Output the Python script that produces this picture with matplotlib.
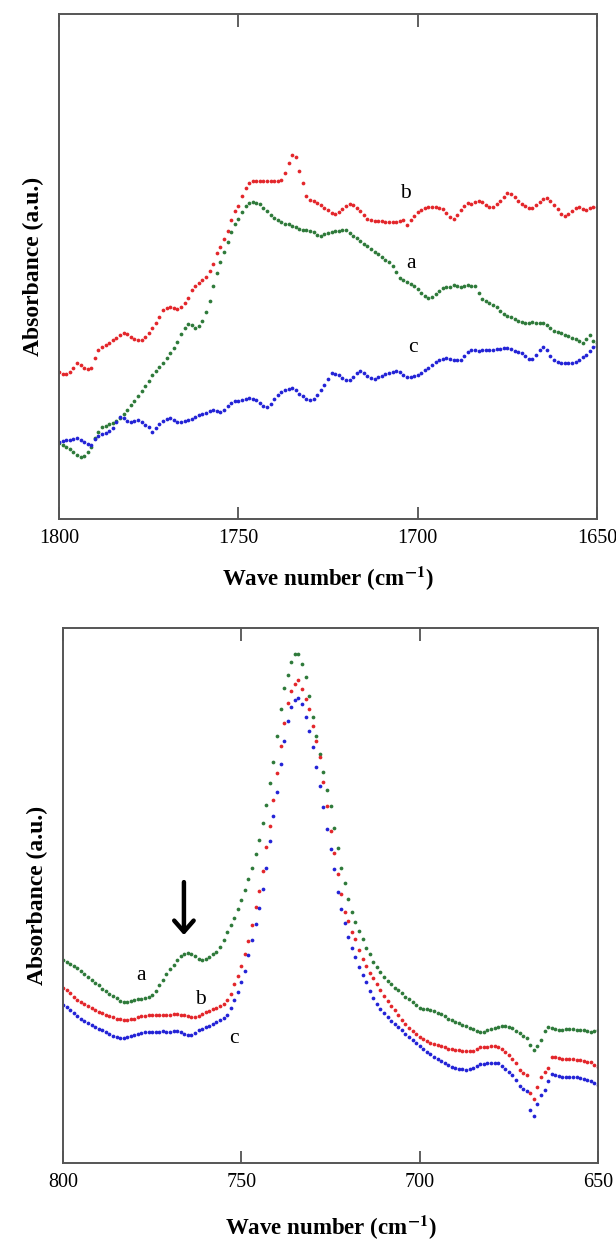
"""Two-panel FTIR absorbance figure: carbonyl region (top) and 800-650 cm-1 region (bottom)."""

import matplotlib
matplotlib.use("Agg")
import matplotlib.pyplot as plt
import numpy as np

plt.rcParams["font.family"] = ["Liberation Serif", "DejaVu Serif"]
plt.rcParams["mathtext.fontset"] = "stix"

GREEN = "#2e7a3a"
RED = "#e3262b"
BLUE = "#2323d6"

# ---- top panel: 1800 -> 1650 cm-1, one point per cm-1 (arbitrary absorbance units)
TOP_START = 1800
TOP_A = [
    15.0, 14.6, 14.2, 13.8, 13.2, 12.6, 12.3, 12.4, 13.2, 14.2,
    16.0, 17.2, 18.2, 18.5, 18.8, 19.0, 19.4, 20.0, 20.8, 21.6,
    22.5, 23.4, 24.4, 25.4, 26.3, 27.4, 28.5, 29.3, 30.1, 30.9,
    31.8, 32.8, 33.8, 35.0, 36.6, 37.8, 38.7, 38.5, 37.9, 38.2,
    39.2, 41.0, 43.2, 46.2, 48.8, 50.8, 52.8, 54.8, 56.8, 58.4,
    59.4, 60.8, 61.9, 62.5, 62.7, 62.6, 62.4, 61.6, 60.9, 60.2,
    59.6, 59.3, 58.8, 58.5, 58.4, 58.0, 57.8, 57.4, 57.3, 57.2,
    57.1, 56.8, 56.2, 56.1, 56.5, 56.7, 56.8, 57.0, 57.1, 57.3,
    57.2, 56.6, 56.1, 55.6, 55.0, 54.5, 54.0, 53.4, 52.9, 52.5,
    51.9, 51.3, 50.8, 50.2, 49.0, 47.8, 47.3, 47.0, 46.6, 46.2,
    45.5, 44.8, 44.2, 43.8, 43.9, 44.6, 45.2, 45.7, 45.9, 46.0,
    46.3, 46.2, 46.0, 46.1, 46.3, 46.1, 46.2, 44.8, 43.6, 43.2,
    42.8, 42.3, 41.9, 41.2, 40.6, 40.3, 40.0, 39.6, 39.2, 39.0,
    38.9, 38.9, 39.0, 38.8, 38.9, 38.9, 38.4, 37.8, 37.3, 37.0,
    36.8, 36.4, 36.2, 35.9, 35.7, 35.2, 34.8, 35.6, 36.4, 35.2,
    34.8,
]
TOP_B = [
    29.1, 28.8, 28.8, 29.2, 30.0, 30.8, 30.6, 30.0, 29.8, 30.0,
    31.8, 33.4, 34.0, 34.4, 34.9, 35.4, 35.8, 36.4, 36.8, 36.6,
    36.0, 35.6, 35.4, 35.5, 36.0, 36.9, 37.8, 38.8, 40.0, 41.3,
    41.8, 41.9, 41.8, 41.6, 42.0, 42.7, 43.8, 45.4, 46.2, 46.8,
    47.3, 48.0, 49.2, 50.6, 52.6, 53.9, 55.5, 57.0, 59.2, 60.9,
    62.0, 64.0, 65.6, 66.5, 66.9, 67.0, 67.0, 67.0, 66.9, 67.0,
    67.0, 66.9, 67.2, 68.6, 70.6, 72.1, 71.6, 69.0, 66.5, 64.0,
    63.2, 62.9, 62.6, 62.2, 61.6, 61.1, 60.6, 60.4, 60.7, 61.4,
    62.0, 62.4, 62.2, 61.6, 61.0, 60.2, 59.5, 59.2, 59.1, 59.1,
    59.0, 58.9, 58.9, 58.8, 58.8, 59.0, 59.2, 58.3, 59.2, 60.0,
    60.8, 61.2, 61.5, 61.7, 61.7, 61.8, 61.6, 61.4, 60.6, 59.8,
    59.5, 60.2, 61.2, 62.0, 62.5, 62.3, 62.8, 63.0, 62.7, 62.2,
    61.8, 61.7, 62.3, 63.0, 63.8, 64.5, 64.4, 63.8, 63.0, 62.4,
    61.9, 61.6, 61.6, 62.2, 62.8, 63.4, 63.6, 63.0, 62.2, 61.3,
    60.5, 60.1, 60.5, 61.0, 61.5, 61.8, 61.4, 61.2, 61.6, 61.7,
    61.8,
]
TOP_C = [
    15.2, 15.4, 15.6, 15.6, 15.9, 16.0, 15.6, 15.2, 14.8, 14.6,
    15.8, 16.4, 16.8, 17.0, 17.4, 18.0, 19.2, 20.2, 20.0, 19.4,
    19.2, 19.4, 19.6, 19.2, 18.6, 18.2, 17.2, 18.0, 18.8, 19.4,
    19.8, 20.0, 19.7, 19.3, 19.2, 19.4, 19.6, 19.9, 20.2, 20.6,
    20.8, 21.0, 21.3, 21.5, 21.4, 21.1, 21.6, 22.4, 22.9, 23.3,
    23.4, 23.6, 23.8, 23.9, 23.8, 23.5, 23.0, 22.4, 22.1, 22.8,
    23.8, 24.5, 25.1, 25.5, 25.8, 25.9, 25.5, 24.8, 24.3, 23.8,
    23.5, 23.8, 24.6, 25.5, 26.6, 27.8, 28.9, 28.7, 28.5, 28.0,
    27.6, 27.6, 28.2, 28.9, 29.4, 29.0, 28.4, 27.9, 27.8, 28.1,
    28.4, 28.8, 29.0, 29.2, 29.4, 29.2, 28.6, 28.1, 28.2, 28.3,
    28.5, 28.9, 29.5, 30.0, 30.6, 31.0, 31.4, 31.6, 31.8, 31.7,
    31.5, 31.4, 31.4, 32.2, 33.0, 33.4, 33.4, 33.3, 33.4, 33.5,
    33.4, 33.5, 33.6, 33.7, 33.8, 33.8, 33.6, 33.3, 33.0, 32.8,
    32.2, 31.7, 31.6, 32.4, 33.4, 34.0, 33.4, 32.2, 31.4, 31.1,
    30.9, 30.8, 30.8, 30.8, 31.0, 31.5, 32.0, 32.5, 33.2, 34.0,
    34.2,
]

# ---- bottom panel: 800 -> 650 cm-1, one point per cm-1
BOT_START = 800
BOT_A = [
    37.9, 37.6, 37.2, 36.8, 36.4, 35.9, 35.3, 34.8, 34.2, 33.7,
    33.2, 32.6, 32.1, 31.6, 31.2, 30.8, 30.3, 30.0, 30.1, 30.3,
    30.5, 30.6, 30.7, 30.9, 31.1, 31.4, 32.2, 33.2, 34.2, 35.3,
    36.2, 37.1, 38.0, 38.6, 39.0, 39.2, 39.0, 38.6, 38.2, 37.9,
    38.1, 38.5, 39.0, 39.5, 40.3, 41.6, 43.1, 44.4, 45.8, 47.5,
    49.1, 51.0, 53.0, 55.2, 57.7, 60.4, 63.5, 67.0, 71.0, 75.0,
    79.9, 84.8, 88.8, 91.3, 93.6, 95.1, 95.2, 93.2, 90.9, 87.2,
    83.4, 79.8, 76.5, 73.0, 69.8, 66.8, 62.6, 58.8, 55.2, 52.3,
    49.4, 46.9, 45.1, 43.4, 41.8, 40.2, 39.0, 37.6, 36.7, 35.7,
    34.7, 34.0, 33.4, 32.8, 32.3, 31.7, 31.1, 30.6, 30.0, 29.5,
    29.0, 28.8, 28.7, 28.6, 28.4, 28.1, 27.8, 27.4, 27.0, 26.7,
    26.4, 26.1, 25.8, 25.6, 25.3, 25.0, 24.7, 24.5, 24.5, 24.8,
    25.1, 25.3, 25.5, 25.6, 25.6, 25.5, 25.2, 24.7, 24.3, 23.8,
    23.3, 22.1, 21.1, 21.8, 23.0, 24.7, 25.5, 25.3, 25.0, 24.9,
    24.9, 25.0, 25.0, 25.0, 24.9, 24.9, 24.9, 24.6, 24.4, 24.6,
    24.9,
]
BOT_B = [
    32.7, 32.3, 31.7, 31.0, 30.5, 30.1, 29.7, 29.3, 29.0, 28.6,
    28.3, 28.0, 27.7, 27.4, 27.2, 27.0, 26.9, 26.8, 26.8, 26.9,
    27.0, 27.2, 27.4, 27.5, 27.6, 27.6, 27.6, 27.7, 27.6, 27.6,
    27.7, 27.8, 27.8, 27.7, 27.6, 27.4, 27.2, 27.2, 27.5, 27.9,
    28.2, 28.5, 28.7, 28.9, 29.3, 29.7, 30.4, 31.6, 33.4, 35.0,
    36.8, 39.0, 41.4, 44.5, 47.8, 50.8, 54.6, 59.0, 63.0, 67.9,
    72.9, 78.0, 82.3, 86.0, 88.3, 89.6, 90.2, 88.6, 86.7, 84.9,
    81.7, 78.8, 75.8, 71.3, 66.7, 62.0, 57.9, 54.0, 50.2, 47.0,
    45.2, 43.2, 41.8, 39.8, 38.1, 36.8, 35.6, 34.6, 33.5, 32.3,
    31.2, 30.2, 29.3, 28.6, 27.6, 26.8, 26.0, 25.3, 24.6, 24.1,
    23.6, 23.2, 22.8, 22.5, 22.2, 22.0, 21.8, 21.6, 21.4, 21.3,
    21.2, 21.1, 21.0, 20.9, 20.9, 21.0, 21.3, 21.6, 21.7, 21.7,
    21.8, 21.8, 21.7, 21.4, 20.8, 20.2, 19.4, 18.7, 17.4, 16.8,
    16.4, 13.0, 11.9, 14.2, 16.0, 17.0, 17.8, 19.9, 19.8, 19.6,
    19.4, 19.4, 19.4, 19.4, 19.3, 19.2, 19.0, 18.9, 18.8, 18.4,
    17.9,
]
BOT_C = [
    29.5, 29.1, 28.6, 28.0, 27.5, 27.0, 26.6, 26.2, 25.8, 25.4,
    25.1, 24.9, 24.5, 24.1, 23.8, 23.5, 23.4, 23.4, 23.5, 23.8,
    24.0, 24.2, 24.3, 24.4, 24.4, 24.5, 24.5, 24.5, 24.6, 24.5,
    24.5, 24.6, 24.7, 24.5, 24.2, 23.9, 23.9, 24.3, 24.8, 25.1,
    25.4, 25.7, 26.0, 26.3, 26.7, 27.1, 27.6, 29.0, 30.5, 32.0,
    33.8, 35.8, 38.8, 41.6, 44.6, 47.6, 51.3, 55.1, 60.2, 64.9,
    69.4, 74.6, 78.8, 82.6, 85.2, 86.5, 86.9, 85.8, 83.4, 80.7,
    77.7, 74.0, 70.5, 66.5, 62.5, 58.6, 55.0, 50.7, 47.4, 44.8,
    42.2, 40.2, 38.5, 36.7, 35.2, 33.8, 32.1, 30.8, 29.7, 28.8,
    28.0, 27.3, 26.6, 26.0, 25.4, 24.8, 24.2, 23.6, 23.0, 22.4,
    21.9, 21.4, 20.8, 20.3, 19.8, 19.4, 19.0, 18.6, 18.3, 18.0,
    17.8, 17.6, 17.5, 17.4, 17.5, 17.8, 18.2, 18.5, 18.5, 18.6,
    18.6, 18.7, 18.6, 18.2, 17.6, 17.1, 16.4, 15.5, 14.3, 13.8,
    13.4, 10.0, 8.8, 11.0, 12.7, 13.6, 15.4, 16.6, 16.4, 16.2,
    16.1, 16.1, 16.1, 16.1, 16.1, 15.9, 15.7, 15.5, 15.4, 15.0,
    14.6,
]

TOP_TICKS = [1800, 1750, 1700, 1650]
BOT_TICKS = [800, 750, 700, 650]
XLABEL = r"Wave number (cm$^{\mathbf{-1}}$)"
YLABEL = "Absorbance (a.u.)"


def wavenumbers(start, n):
    return start - np.arange(n)


def style_axes(ax, xmax, xmin, ticks, labelpad):
    ax.set_xlim(xmax, xmin)
    ax.set_ylim(0, 100)
    ax.set_xticks(ticks)
    ax.set_yticks([])
    ax.tick_params(axis="x", direction="in", top=True, bottom=True,
                   length=9, width=1.2, color="#444444", labelsize=14.5, pad=7)
    for sp in ax.spines.values():
        sp.set_color("#555555")
        sp.set_linewidth(1.4)
    ax.set_xlabel(XLABEL, fontsize=16.5, fontweight="bold", labelpad=labelpad)
    ax.set_ylabel(YLABEL, fontsize=17, fontweight="bold", labelpad=11)


def dots(ax, x, y, color):
    ax.plot(x, y, linestyle="none", marker="o", markersize=2.7,
            markeredgewidth=0, color=color)


fig = plt.figure(figsize=(6.16, 12.42), dpi=100)
ax1 = fig.add_axes([0.0958, 0.5821, 0.8734, 0.4066])
ax2 = fig.add_axes([0.1023, 0.0636, 0.8685, 0.4308])

x_top = wavenumbers(TOP_START, len(TOP_A))
dots(ax1, x_top, TOP_B, RED)
dots(ax1, x_top, TOP_A, GREEN)
dots(ax1, x_top, TOP_C, BLUE)
style_axes(ax1, 1800, 1650, TOP_TICKS, 12)
ax1.text(1703.5, 64.4, "b", fontsize=15.5, ha="center", va="center")
ax1.text(1702.0, 50.6, "a", fontsize=15.5, ha="center", va="center")
ax1.text(1701.3, 34.0, "c", fontsize=15.5, ha="center", va="center")

x_bot = wavenumbers(BOT_START, len(BOT_A))
dots(ax2, x_bot, BOT_A, GREEN)
dots(ax2, x_bot, BOT_B, RED)
dots(ax2, x_bot, BOT_C, BLUE)
style_axes(ax2, 800, 650, BOT_TICKS, 16)
ax2.text(778.1, 35.1, "a", fontsize=15.5, ha="center", va="center")
ax2.text(761.4, 30.5, "b", fontsize=15.5, ha="center", va="center")
ax2.text(752.0, 23.3, "c", fontsize=15.5, ha="center", va="center")
ax2.annotate("", xy=(766.1, 42.6), xytext=(766.1, 52.5),
             arrowprops=dict(arrowstyle="->, head_length=0.8, head_width=0.7",
                             lw=3.2, color="black", shrinkA=0, shrinkB=0))

fig.savefig("out.png", dpi=100)
